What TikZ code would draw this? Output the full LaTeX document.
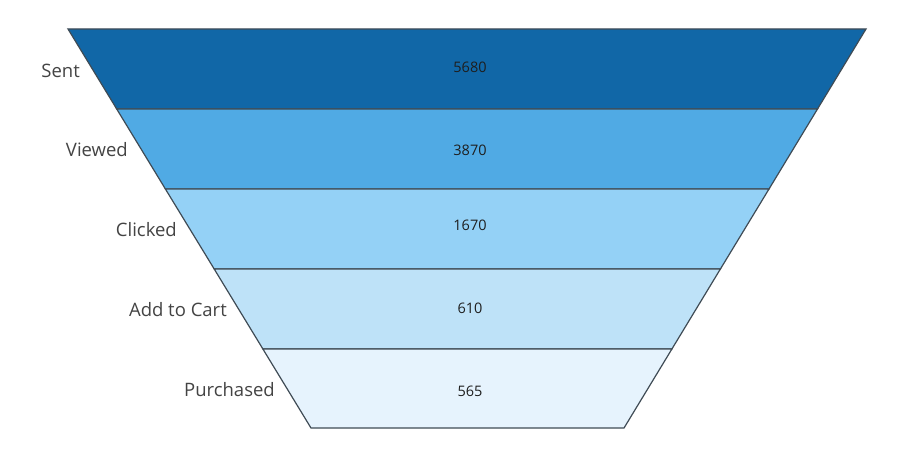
\documentclass[tikz,border=0pt]{standalone}
\usepackage{fontspec}
\setmainfont{Open Sans}
\definecolor{bandA}{HTML}{1167A7}
\definecolor{bandB}{HTML}{50AAE4}
\definecolor{bandC}{HTML}{94D1F6}
\definecolor{bandD}{HTML}{BEE2F8}
\definecolor{bandE}{HTML}{E6F3FD}
\definecolor{edge}{HTML}{3F4B55}
\definecolor{lbl}{HTML}{444444}
\definecolor{val}{HTML}{1E1E1E}
\tikzset{
  band/.style={draw=edge, line width=1.2pt, line join=miter},
  stagelabel/.style={anchor=east, text=lbl, font=\fontsize{18.5}{20}\selectfont, inner sep=0pt},
  valuelabel/.style={anchor=center, text=val, font=\fontsize{14.5}{16}\selectfont, inner sep=0pt},
}
\begin{document}
\begin{tikzpicture}[x=1pt,y=-1pt]
\useasboundingbox (0,0) rectangle (920,470);
\fill[white] (0,0) rectangle (920,470);
\filldraw[band, fill=bandA] (68,29) -- (866,29) -- (817.5,109) -- (116.7,109) -- cycle;
\filldraw[band, fill=bandB] (116.7,109) -- (817.5,109) -- (769.0,189) -- (165.4,189) -- cycle;
\filldraw[band, fill=bandC] (165.4,189) -- (769.0,189) -- (720.4,269) -- (214.2,269) -- cycle;
\filldraw[band, fill=bandD] (214.2,269) -- (720.4,269) -- (671.9,349) -- (262.9,349) -- cycle;
\filldraw[band, fill=bandE] (262.9,349) -- (671.9,349) -- (624,428) -- (311,428) -- cycle;
\node[valuelabel] (v1) at (470,67) {5680};
\node[valuelabel] (v2) at (470,150) {3870};
\node[valuelabel] (v3) at (470,225) {1670};
\node[valuelabel] (v4) at (470,308) {610};
\node[valuelabel] (v5) at (470,391) {565};
\node[stagelabel] (s1) at (80,71) {Sent};
\node[stagelabel] (s2) at (128,150) {Viewed};
\node[stagelabel] (s3) at (177,230) {Clicked};
\node[stagelabel] (s4) at (227,310) {Add to Cart};
\node[stagelabel] (s5) at (275,390) {Purchased};
\end{tikzpicture}
\end{document}
